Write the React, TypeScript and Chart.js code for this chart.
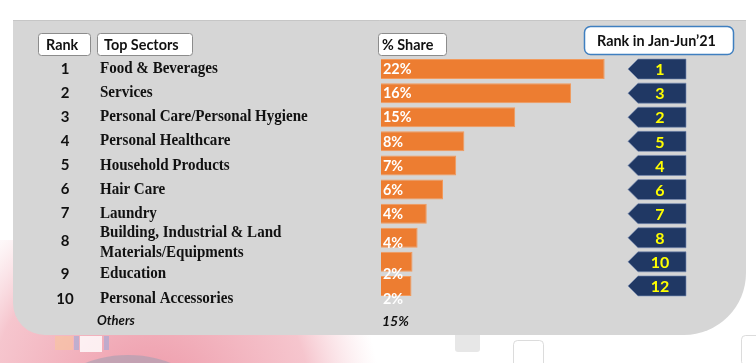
import React, { useEffect, useRef } from "react";
import { Chart, registerables } from "chart.js";

Chart.register(...registerables);

// ---- data ----
const ranks = ["1", "2", "3", "4", "5", "6", "7", "8", "9", "10"];
const sectors: string[][] = [
  ["Food & Beverages"],
  ["Services"],
  ["Personal Care/Personal Hygiene"],
  ["Personal Healthcare"],
  ["Household Products"],
  ["Hair Care"],
  ["Laundry"],
  ["Building, Industrial & Land", "Materials/Equipments"],
  ["Education"],
  ["Personal Accessories"],
];
const shareLabels = ["22%", "16%", "15%", "8%", "7%", "6%", "4%", "4%", "2%", "2%"];
// bar lengths as drawn in the picture (same units as the % axis)
const barLengths = [22, 18.7, 13.2, 8.2, 7.4, 6.1, 4.5, 3.6, 3.1, 3.0];
const prevRanks = ["1", "3", "2", "5", "4", "6", "7", "8", "10", "12"];
const othersLabel = "Others";
const othersShare = "15%";
const headerRank = "Rank";
const headerSector = "Top Sectors";
const headerShare = "% Share";
const headerPrev = "Rank in Jan-Jun\u201921";

const ORANGE = "#ed7d31";
const NAVY = "#203864";
const PANEL = "#d6d6d6";
const SANS = "Lato, 'Open Sans', sans-serif";
const SERIF = "'Liberation Serif', 'DejaVu Serif', serif";

function roundRect(ctx: CanvasRenderingContext2D, x: number, y: number, w: number, h: number, r: number) {
  ctx.beginPath();
  ctx.moveTo(x + r, y);
  ctx.lineTo(x + w - r, y);
  ctx.arcTo(x + w, y, x + w, y + r, r);
  ctx.lineTo(x + w, y + h - r);
  ctx.arcTo(x + w, y + h, x + w - r, y + h, r);
  ctx.lineTo(x + r, y + h);
  ctx.arcTo(x, y + h, x, y + h - r, r);
  ctx.lineTo(x, y + r);
  ctx.arcTo(x, y, x + r, y, r);
  ctx.closePath();
}

function squeezedText(ctx: CanvasRenderingContext2D, text: string, x: number, y: number, sx: number) {
  ctx.save();
  ctx.translate(x, y);
  ctx.scale(sx, 1);
  ctx.fillText(text, 0, 0);
  ctx.restore();
}

const backdropPlugin = {
  id: "backdrop",
  beforeDraw(chart: any) {
    const ctx: CanvasRenderingContext2D = chart.ctx;
    const W = chart.width;
    const H = chart.height;
    ctx.save();
    ctx.fillStyle = "#ffffff";
    ctx.fillRect(0, 0, W, H);
    // faint pink figure bottom-left
    const g = ctx.createRadialGradient(150, 400, 30, 150, 400, 230);
    g.addColorStop(0, "rgba(232,120,140,0.7)");
    g.addColorStop(0.65, "rgba(238,150,165,0.55)");
    g.addColorStop(1, "rgba(245,190,200,0)");
    ctx.fillStyle = g;
    ctx.fillRect(0, 240, 400, H - 240);
    // light blue / white collar
    ctx.fillStyle = "rgba(255,255,255,0.8)";
    ctx.fillRect(80, 336, 22, 16);
    ctx.fillStyle = "rgba(150,170,220,0.55)";
    ctx.fillRect(74, 336, 5, 14);
    ctx.fillRect(104, 336, 5, 14);
    ctx.fillStyle = "rgba(250,200,150,0.5)";
    ctx.fillRect(55, 336, 18, 14);
    // grey head
    ctx.fillStyle = "rgba(165,160,178,0.6)";
    ctx.beginPath();
    ctx.ellipse(128, 400, 75, 45, 0, 0, Math.PI * 2);
    ctx.fill();
    // faint squares on the right bottom
    ctx.strokeStyle = "rgba(205,205,205,0.7)";
    ctx.lineWidth = 1;
    roundRect(ctx, 513.5, 340.5, 30, 30, 4);
    ctx.stroke();
    ctx.fillStyle = "rgba(215,215,215,0.6)";
    roundRect(ctx, 455, 330, 25, 22, 3);
    ctx.fill();
    roundRect(ctx, 741.5, 335.5, 30, 30, 4);
    ctx.stroke();

    // grey panel
    const px = 13, py = 20, pr = 746, pb = 335;
    ctx.fillStyle = PANEL;
    ctx.beginPath();
    ctx.moveTo(px, py);
    ctx.lineTo(pr, py);
    ctx.lineTo(pr, pb - 62);
    ctx.arcTo(pr, pb, pr - 62, pb, 62);
    ctx.lineTo(px + 32, pb);
    ctx.arcTo(px, pb, px, pb - 32, 32);
    ctx.closePath();
    ctx.fill();
    ctx.strokeStyle = "#c6c6c6";
    ctx.beginPath();
    ctx.moveTo(px, py + 0.5);
    ctx.lineTo(pr, py + 0.5);
    ctx.stroke();

    // header boxes
    const box = (x: number, y: number, w: number, h: number, r: number, stroke: string, lw: number) => {
      ctx.fillStyle = "#ffffff";
      roundRect(ctx, x, y, w, h, r);
      ctx.fill();
      ctx.strokeStyle = stroke;
      ctx.lineWidth = lw;
      ctx.stroke();
    };
    box(38.5, 33.5, 52, 22, 3, "#8c8c8c", 1);
    box(97.5, 33.5, 95, 22, 3, "#8c8c8c", 1);
    box(378.5, 33.5, 68, 22, 3, "#8c8c8c", 1);
    box(584.5, 26.5, 149, 28, 6, "#3f7fc0", 1.5);

    ctx.fillStyle = "#111111";
    ctx.textBaseline = "middle";
    ctx.font = `bold 16px ${SANS}`;
    ctx.textAlign = "left";
    squeezedText(ctx, headerRank, 46, 45, 0.9);
    squeezedText(ctx, headerSector, 104, 45, 0.9);
    squeezedText(ctx, headerShare, 382, 45, 0.9);
    squeezedText(ctx, headerPrev, 597, 41, 0.9);
    ctx.restore();
  },
};

const textPlugin = {
  id: "rowText",
  afterDatasetsDraw(chart: any, _args: any, opts: any) {
    const ctx: CanvasRenderingContext2D = chart.ctx;
    const ys = chart.scales.y;
    const area = chart.chartArea;
    const shift: number[] = opts.shift;
    const step = ys.getPixelForValue(1) - ys.getPixelForValue(0);
    ctx.save();
    ctx.textBaseline = "middle";
    for (let i = 0; i < ranks.length; i++) {
      const yc = ys.getPixelForValue(i);
      const yt = yc + shift[i];
      // rank number
      ctx.fillStyle = "#111111";
      ctx.font = `bold 15px ${SANS}`;
      ctx.textAlign = "center";
      ctx.fillText(ranks[i], 65, yt);
      // sector
      ctx.font = `bold 16px ${SERIF}`;
      ctx.textAlign = "left";
      const lines = sectors[i];
      if (lines.length === 1) {
        squeezedText(ctx, lines[0], 100, yt, 0.94);
      } else {
        squeezedText(ctx, lines[0], 100, yt - 8, 0.94);
        squeezedText(ctx, lines[1], 100, yt + 12, 0.94);
      }
      // share label
      ctx.fillStyle = "#ffffff";
      ctx.font = `bold 16px ${SANS}`;
      squeezedText(ctx, shareLabels[i], area.left + 2, yt + (lines.length > 1 ? 2 : 0), 0.9);
      // previous rank arrow
      const right = area.right;
      const bodyL = right - 48;
      const tip = right - 58;
      const h = 20;
      ctx.fillStyle = NAVY;
      ctx.beginPath();
      ctx.moveTo(bodyL, yc - h / 2);
      ctx.lineTo(right, yc - h / 2);
      ctx.lineTo(right, yc + h / 2);
      ctx.lineTo(bodyL, yc + h / 2);
      ctx.lineTo(tip, yc);
      ctx.closePath();
      ctx.fill();
      ctx.strokeStyle = "rgba(120,140,180,0.8)";
      ctx.lineWidth = 0.8;
      ctx.stroke();
      ctx.fillStyle = "#ffff00";
      ctx.font = `bold 16px ${SANS}`;
      ctx.textAlign = "center";
      ctx.fillText(prevRanks[i], right - 26, yc + 1);
    }
    // Others row
    const yo = ys.getPixelForValue(ranks.length - 1) + step + opts.othersShift;
    ctx.fillStyle = "#111111";
    ctx.font = `italic bold 13px ${SANS}`;
    ctx.textAlign = "left";
    ctx.fillText(othersLabel, 97, yo);
    ctx.font = `italic bold 14px ${SANS}`;
    ctx.fillText(othersShare, area.left + 1, yo);
    ctx.restore();
  },
};

export default function App() {
  const ref = useRef<HTMLCanvasElement | null>(null);
  useEffect(() => {
    if (!ref.current) return;
    const chart = new Chart(ref.current, {
      type: "bar",
      data: {
        labels: sectors.map((s) => s.join(" ")),
        datasets: [
          {
            data: barLengths,
            backgroundColor: ORANGE,
            borderColor: "#f29a5c",
            borderWidth: 1,
            barPercentage: 0.83,
            categoryPercentage: 1,
          },
        ],
      },
      options: {
        indexAxis: "y",
        responsive: false,
        animation: false,
        devicePixelRatio: 1,
        layout: { padding: { left: 381, right: 70, top: 57, bottom: 65 } },
        scales: {
          x: { display: false, min: 0, max: 30 },
          y: { display: false },
        },
        plugins: {
          legend: { display: false },
          tooltip: { enabled: false },
          rowText: { shift: [0, 0, 0, 0, 0, 0, 0, 3, 12, 13], othersShift: 11 },
        } as any,
      },
      plugins: [backdropPlugin, textPlugin],
    });
    return () => chart.destroy();
  }, []);
  return (
    <div style={{ position: "fixed", left: 0, top: 0, width: 756, height: 363 }}>
      <canvas ref={ref} width={756} height={363} style={{ display: "block" }} />
    </div>
  );
}
